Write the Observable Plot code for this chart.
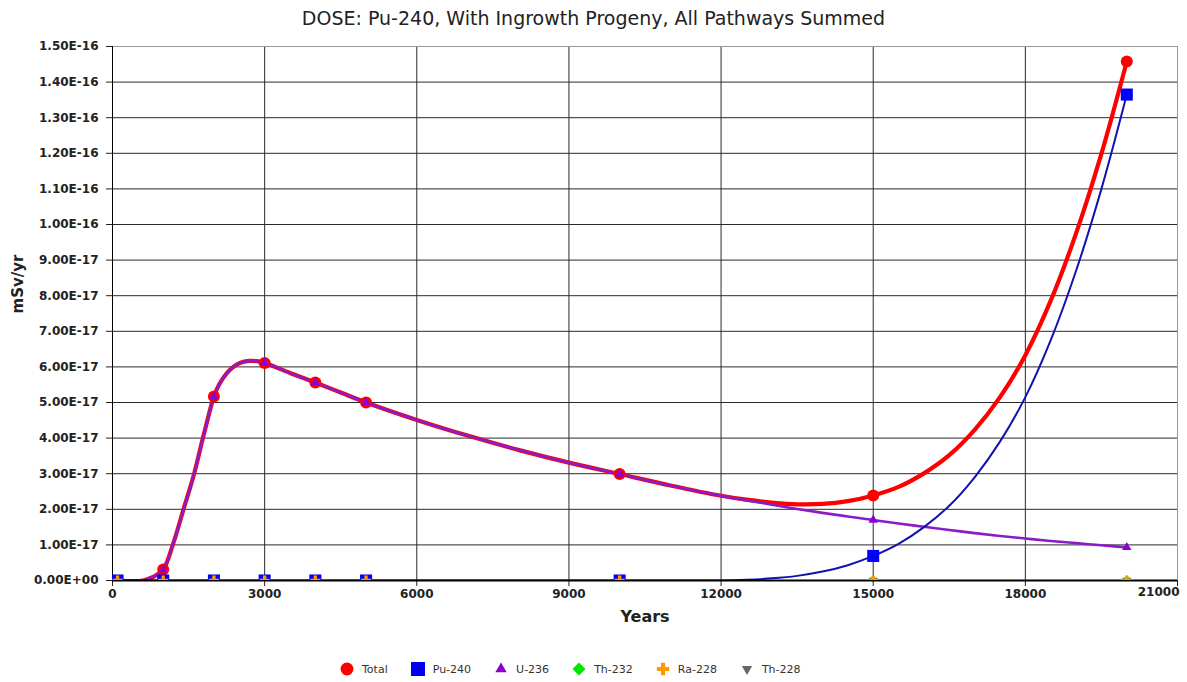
<!DOCTYPE html>
<html>
<head>
<meta charset="utf-8">
<script src="https://cdn.jsdelivr.net/npm/d3@7"></script>
<script src="https://cdn.jsdelivr.net/npm/@observablehq/plot@0.6"></script>
<style>
  body { margin: 0; background: #fff; font-family: "DejaVu Sans", sans-serif; }
  #wrap { width: 1187px; }
  #title { height: 36px; line-height: 36px; text-align: center; font-size: 19px; color: #222; }
  #chart svg { display: block; }
  #legend { display: flex; justify-content: flex-start; align-items: center; height: 30px; font-size: 11px; color: #333; padding-top: 14px; padding-left: 339px; }
  .item { display: flex; align-items: center; margin-right: 22px; }
  .item svg { display: block; margin-right: 7px; }
</style>
</head>
<body>
<div id="wrap">
  <div id="title">DOSE: Pu-240, With Ingrowth Progeny, All Pathways Summed</div>
  <div id="chart"></div>
  <div id="legend"></div>
</div>
<script>
// Reporting times (years) — marker positions
const years = [100, 1000, 2000, 3000, 4000, 5000, 10000, 15000, 20000];

// Dose by nuclide at the reporting times, mSv/yr
const total = [0, 3.1e-18, 5.17e-17, 6.11e-17, 5.56e-17, 5.0e-17, 2.99e-17, 2.39e-17, 1.458e-16];
const pu240 = [0, 0, 0, 0, 0, 0, 0, 6.9e-18, 1.365e-16];
const u236  = [0, 3.1e-18, 5.17e-17, 6.11e-17, 5.56e-17, 5.0e-17, 2.99e-17, 1.70e-17, 9.3e-18];
const th232 = [0, 0, 0, 0, 0, 0, 0, 0, 0];
const ra228 = [0, 0, 0, 0, 0, 0, 0, 0, 0];
const th228 = [0, 0, 0, 0, 0, 0, 0, 0, 0];

// Finer time history used for the curves, mSv/yr
const curveYears = [100, 600, 800, 1000, 1200, 1400, 1600, 1800, 2000, 2100, 2250, 2400, 2550, 2700, 2850, 3000,
  3500, 4000, 4500, 5000, 6000, 7000, 8000, 9000, 10000, 11000, 12000, 12500, 13000, 13500, 14000, 14500,
  15000, 15500, 16000, 16500, 17000, 17500, 18000, 18500, 19000, 19500, 20000];
const u236Curve = [0, 0, 1.0e-18, 3.1e-18, 1.05e-17, 2.0e-17, 2.95e-17, 4.1e-17, 5.17e-17, 5.5e-17, 5.82e-17, 6.02e-17, 6.13e-17, 6.17e-17, 6.16e-17, 6.11e-17,
  5.83e-17, 5.56e-17, 5.28e-17, 5.0e-17, 4.51e-17, 4.07e-17, 3.67e-17, 3.31e-17, 2.99e-17, 2.67e-17, 2.38e-17, 2.25e-17, 2.13e-17, 2.01e-17, 1.9e-17, 1.8e-17,
  1.70e-17, 1.6e-17, 1.51e-17, 1.42e-17, 1.33e-17, 1.25e-17, 1.18e-17, 1.11e-17, 1.05e-17, 9.9e-18, 9.3e-18];
const pu240Curve = [0, 0, 0, 0, 0, 0, 0, 0, 0, 0, 0, 0, 0, 0, 0, 0,
  0, 0, 0, 0, 0, 0, 0, 0, 0, 0, 0, 2e-19, 6e-19, 1.3e-18, 2.5e-18, 4.3e-18,
  6.9e-18, 1.03e-17, 1.5e-17, 2.1e-17, 2.9e-17, 3.9e-17, 5.15e-17, 6.75e-17, 8.7e-17, 1.1e-16, 1.365e-16];

// Axis ticks
const xTicks = [0, 3000, 6000, 9000, 12000, 15000, 18000, 21000];
const yTicks = [0, 1e-17, 2e-17, 3e-17, 4e-17, 5e-17, 6e-17, 7e-17, 8e-17, 9e-17,
                1e-16, 1.1e-16, 1.2e-16, 1.3e-16, 1.4e-16, 1.5e-16];

const seriesNames = ["Total", "Pu-240", "U-236", "Th-232", "Ra-228", "Th-228"];

const rows = years.map((t, i) => ({
  t, total: total[i], pu240: pu240[i], u236: u236[i],
  th232: th232[i], ra228: ra228[i], th228: th228[i]
}));
// Total is the sum of the contributing nuclides
const curve = curveYears.map((t, i) => ({
  t, u236: u236Curve[i], pu240: pu240Curve[i], total: u236Curve[i] + pu240Curve[i]
}));

const sci = d => d.toExponential(2).toUpperCase().replace(/E([+-])(\d)$/, "E$10$2");
const lastX = xTicks[xTicks.length - 1];

const chart = Plot.plot({
  width: 1187,
  height: 604,
  marginTop: 10,
  marginBottom: 60,
  marginLeft: 112,
  marginRight: 10,
  style: { fontFamily: "DejaVu Sans", fontSize: "12px", fontWeight: "bold", color: "#222", background: "#fff" },
  x: { domain: [0, lastX] },
  y: { domain: [0, yTicks[yTicks.length - 1]] },
  marks: [
    Plot.gridX(xTicks.slice(0, -1), { stroke: "#2a2a2a", strokeOpacity: 1 }),
    Plot.gridY(yTicks.slice(0, -1), { stroke: "#2a2a2a", strokeOpacity: 1 }),
    Plot.ruleY([yTicks[yTicks.length - 1]], { stroke: "#999" }),
    Plot.ruleX([lastX], { stroke: "#999" }),
    Plot.axisX(xTicks, { tickSize: 6, tickPadding: 3, label: null, stroke: "#222",
      tickFormat: d => d === lastX ? "" : String(d) }),
    Plot.text([lastX], { x: d => d, frameAnchor: "bottom", dy: 15, dx: 2, textAnchor: "end",
      text: d => String(d), fontSize: 12, fontWeight: "bold", fill: "#222" }),
    Plot.axisY(yTicks, { tickSize: 6, tickPadding: 8, tickFormat: sci, label: null, stroke: "#222" }),

    // smoothed series lines
    Plot.line(curve, { x: "t", y: "total", stroke: "#ff0000", strokeWidth: 4.2, curve: "catmull-rom", clip: true }),
    Plot.line(curve, { x: "t", y: "u236", stroke: "#8a1cc8", strokeWidth: 2.6, curve: "catmull-rom", clip: true }),
    Plot.line(curve, { x: "t", y: "pu240", stroke: "#1212b0", strokeWidth: 2, curve: "catmull-rom", clip: true }),

    // axis lines
    Plot.ruleX([0], { stroke: "#000" }),
    Plot.ruleY([0], { stroke: "#000", strokeWidth: 2 }),

    // point markers at the reporting times
    Plot.dot(rows, { x: "t", y: "th228", symbol: "triangle", rotate: 180, r: 3.5, fill: "#666", clip: true }),
    Plot.dot(rows, { x: "t", y: "th232", symbol: "diamond2", r: 4.5, fill: "#00e000", clip: true }),
    Plot.dot(rows.filter(d => d.total > 0), { x: "t", y: "total", symbol: "circle", r: 6, fill: "#ff0000", clip: true }),
    Plot.dot(rows.filter(d => d.u236 > 0), { x: "t", y: "u236", symbol: "triangle", r: 3.5, fill: "#8a00d4", clip: true }),
    Plot.dot(rows, { x: "t", y: "pu240", symbol: "square", r: 6.8, fill: "#0000ff", clip: true }),
    Plot.dot(rows, { x: "t", y: "ra228", symbol: "cross", r: 4.2, fill: "#ff9900", clip: true }),

    // axis titles
    Plot.text([0], { frameAnchor: "bottom", dy: 41, text: () => "Years", fontSize: 16, fontWeight: "bold", fill: "#222" }),
    Plot.text([0], { frameAnchor: "left", dx: -94, rotate: -90, text: () => "mSv/yr", fontSize: 15, fontWeight: "bold", fill: "#222" })
  ]
});
document.getElementById("chart").appendChild(chart);

// Legend
const legendGlyphs = [
  { type: d3.symbolCircle, size: 130, fill: "#ff0000", rot: 0 },
  { type: d3.symbolSquare, size: 196, fill: "#0000ee", rot: 0 },
  { type: d3.symbolTriangle, size: 56, fill: "#8a00c8", rot: 0 },
  { type: d3.symbolDiamond2, size: 108, fill: "#00e600", rot: 0 },
  { type: d3.symbolCross, size: 85, fill: "#ff9900", rot: 0 },
  { type: d3.symbolTriangle, size: 46, fill: "#666666", rot: 180 }
];
const legend = d3.select("#legend");
seriesNames.forEach((name, i) => {
  const g = legendGlyphs[i];
  const item = legend.append("div").attr("class", "item");
  const svg = item.append("svg").attr("width", 16).attr("height", 16);
  svg.append("path")
    .attr("d", d3.symbol(g.type, g.size)())
    .attr("fill", g.fill)
    .attr("transform", `translate(8,8) rotate(${g.rot})`);
  item.append("span").text(name);
});
</script>
</body>
</html>
